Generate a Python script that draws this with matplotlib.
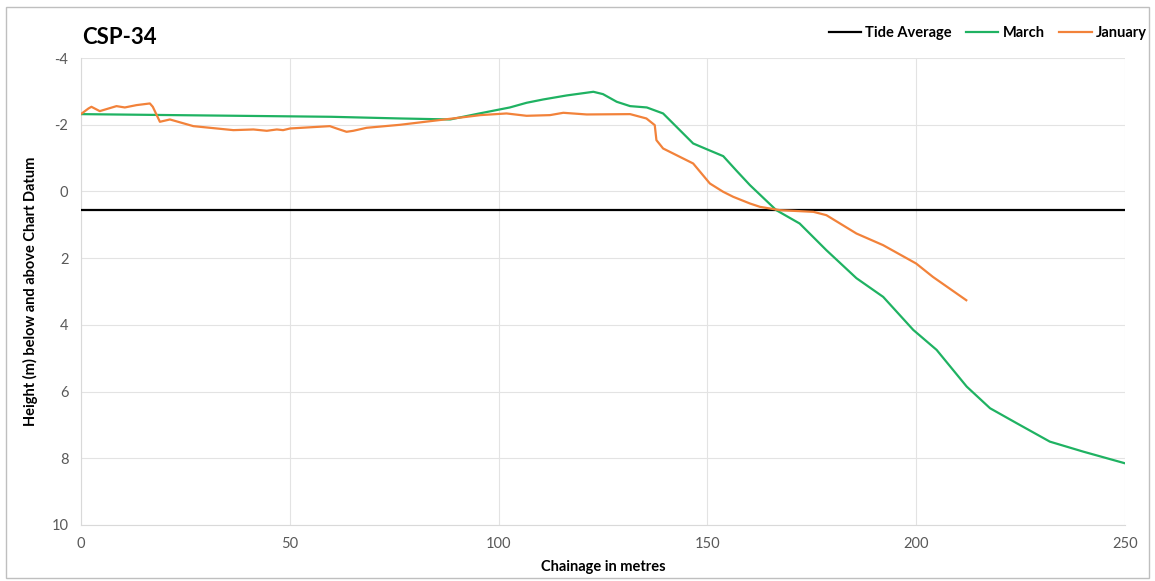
import matplotlib.pyplot as plt
from matplotlib.patches import Rectangle

plt.rcParams['axes.unicode_minus'] = False

# chainage (m) and height (m)
march_x = [0, 30, 60, 76.4, 88.4, 95, 102.7, 106.7, 110.7, 116.3, 122.7, 125, 128.3, 131.5,
           135.5, 139.4, 142.6, 146.6, 149.8, 153.8, 157.0, 160.2, 166.5, 172.1,
           178.5, 185.7, 192.1, 199.3, 204.9, 212.1, 217.7, 224.1, 232.0, 240, 250]
march_y = [-2.32, -2.28, -2.24, -2.19, -2.16, -2.33, -2.52, -2.66, -2.76, -2.88, -2.99, -2.92,
           -2.69, -2.56, -2.52, -2.34, -1.94, -1.44, -1.27, -1.06, -0.62, -0.19, 0.56,
           0.96, 1.76, 2.6, 3.16, 4.15, 4.75, 5.85, 6.5, 6.95, 7.5, 7.8, 8.15]

jan_x = [0.2, 1.8, 2.5, 4.5, 8.5, 10.5, 13.3, 16.5, 17.2, 18.9, 21.3, 26.9, 36.5, 41.3, 44.5,
         46.9, 48.4, 50.1, 59.6, 61.2, 63.6, 65.2, 68.4, 76.4, 84.4, 92.4, 95.6, 101.9, 106.7,
         112.3, 115.5, 121.1, 131.5, 135.4, 137.4, 137.8, 139.4, 144.2, 146.6, 150.6, 153.8,
         156.2, 160.2, 162.6, 167.4, 175.4, 178.5, 185.7, 192.1, 200, 204, 212]
jan_y = [-2.34, -2.49, -2.54, -2.41, -2.56, -2.52, -2.59, -2.64, -2.54, -2.09, -2.16, -1.96,
         -1.84, -1.86, -1.82, -1.86, -1.84, -1.89, -1.96, -1.89, -1.79, -1.82, -1.91, -2.0,
         -2.12, -2.24, -2.29, -2.34, -2.27, -2.29, -2.36, -2.31, -2.32, -2.19, -1.99, -1.54,
         -1.29, -0.99, -0.84, -0.24, 0.01, 0.16, 0.36, 0.46, 0.56, 0.61, 0.71, 1.26, 1.61,
         2.16, 2.56, 3.26]

tide_x = [0, 250]
tide_y = [0.55, 0.55]

fig = plt.figure(figsize=(11.55, 5.81), dpi=100)
ax = fig.add_axes([0.0701, 0.0964, 0.9039, 0.8036])

grid_c = '#e3e3e3'
ax.plot(tide_x, tide_y, color='black', lw=1.6, label='Tide Average', zorder=3)
ax.plot(march_x, march_y, color='#1fb262', lw=1.6, label='March', zorder=4)
ax.plot(jan_x, jan_y, color='#f2823a', lw=1.6, label='January', zorder=5)

ax.set_xlim(0, 250)
ax.set_ylim(10, -4)
ax.set_xticks([0, 50, 100, 150, 200, 250])
ax.set_yticks([-4, -2, 0, 2, 4, 6, 8, 10])
ax.grid(True, color=grid_c, lw=0.8)
ax.set_axisbelow(True)
for s in ['top', 'right']:
    ax.spines[s].set_visible(False)
for s in ['left', 'bottom']:
    ax.spines[s].set_color('#d9d9d9')
ax.tick_params(length=0, labelsize=10.5, colors='#595959', pad=9)
for lab in ax.get_xticklabels() + ax.get_yticklabels():
    lab.set_fontfamily('Lato')

ax.set_xlabel('Chainage in metres', fontsize=10.5, fontweight='bold', family='Lato', labelpad=6)
ax.set_ylabel('Height (m) below and above Chart Datum', fontsize=10.5, fontweight='bold',
              family='Lato', labelpad=10)

fig.text(0.071, 0.935, 'CSP-34', fontsize=16, fontweight='bold', family='Lato', va='center')

leg = fig.legend(loc='center right', bbox_to_anchor=(0.993, 0.943), ncol=3, frameon=False,
                 prop={'family': 'Lato', 'weight': 'bold', 'size': 10.5},
                 handlelength=2.2, handletextpad=0.3, columnspacing=1.0, borderaxespad=0,
                 borderpad=0)

fig.patches.append(Rectangle((0.005, 0.006), 0.99, 0.982, transform=fig.transFigure,
                             fill=False, edgecolor='#bfbfbf', lw=1))

fig.savefig('out.png', dpi=100)
